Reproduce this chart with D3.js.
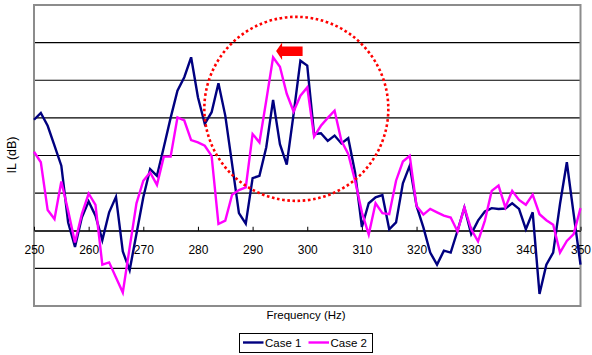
<!DOCTYPE html>
<html>
<head>
<meta charset="utf-8">
<script src="https://cdn.jsdelivr.net/npm/d3@7"></script>
<style>
  body { margin: 0; background: #fff; }
  text { font-family: Arial, "Liberation Sans", sans-serif; }
</style>
</head>
<body>
<div id="chart"></div>
<script>
// frequency steps: 250..350 Hz every 1.25 Hz
var freqStart = 250, freqStep = 1.25
var xTicks = [250, 260, 270, 280, 290, 300, 310, 320, 330, 340, 350]
var seriesNames = ["Case 1", "Case 2"]

var case1 = [2.95, 3.13, 2.79, 2.26, 1.73, 0.22, -0.43, 0.35, 0.78, 0.4,
  -0.25, 0.49, 0.9, -0.55, -1.05, -0.08, 0.89, 1.64, 1.46, 2.22,
  3.0, 3.72, 4.08, 4.61, 3.55, 2.84, 3.15, 3.92, 3.06, 1.77,
  0.47, 0.19, 1.4, 1.46, 2.22, 3.48, 2.3, 1.76, 3.1, 4.52,
  4.39, 2.57, 2.59, 2.39, 2.53, 2.32, 2.46, 1.55, 0.1, 0.73,
  0.89, 0.95, 0.04, 0.22, 1.26, 1.73, 0.66, 0.09, -0.58, -0.9,
  -0.53, -0.58, 0.0, 0.62, -0.09, 0.27, 0.51, 0.6, 0.58, 0.59,
  0.73, 0.58, 0.04, 0.49, -1.68, -0.9, -0.58, 0.71, 1.82, 0.44,
  -0.9]

var case2 = [2.1, 1.82, 0.55, 0.31, 1.31, 0.53, -0.31, 0.44, 0.99, 0.69,
  -0.9, -0.84, -1.24, -1.64, -0.45, 0.73, 1.33, 1.55, 1.22, 1.97,
  1.97, 3.01, 2.93, 2.41, 2.35, 2.26, 1.99, 0.18, 0.27, 0.96,
  1.08, 1.15, 2.57, 2.35, 3.46, 4.61, 4.36, 3.64, 3.17, 3.59,
  3.81, 2.5, 2.79, 3.0, 3.19, 2.39, 2.04, 1.33, 0.49, -0.1,
  0.73, 0.47, 0.44, 1.33, 1.84, 1.99, 0.66, 0.43, 0.58, 0.49,
  0.4, 0.35, -0.02, 0.62, 0.04, -0.28, 0.27, 1.06, 1.2, 0.62,
  1.06, 0.82, 0.69, 0.96, 0.44, 0.28, 0.16, -0.58, -0.27, -0.09,
  0.6]

var width = 592, height = 355
var plot = { left: 34, right: 580.5, top: 5, bottom: 306 }

var svg = d3.select("#chart").append("svg")
  .attr("width", width)
  .attr("height", height)

var x = d3.scaleLinear().domain([250, 350]).range([plot.left, plot.right])
var y = d3.scaleLinear().domain([-2, 6]).range([plot.bottom, plot.top])

// gridlines
svg.append("g").selectAll("line")
  .data(d3.range(-1, 6))
  .join("line")
  .attr("x1", plot.left).attr("x2", plot.right)
  .attr("y1", d => y(d)).attr("y2", d => y(d))
  .attr("stroke", "#000")
  .attr("stroke-width", 1.2)

// plot frame
svg.append("rect")
  .attr("x", plot.left).attr("y", plot.top)
  .attr("width", plot.right - plot.left)
  .attr("height", plot.bottom - plot.top)
  .attr("fill", "none")
  .attr("stroke", "#8c8c8c")
  .attr("stroke-width", 2)

// x axis sits at 0
var xAxis = svg.append("g")
  .attr("transform", `translate(0, ${y(0)})`)
  .call(d3.axisBottom(x).tickValues(xTicks).tickFormat(d3.format("d"))
    .tickSizeInner(-4).tickSizeOuter(0).tickPadding(14.5))
xAxis.select(".domain").attr("stroke", "#000").attr("stroke-width", 1.2)
xAxis.selectAll(".tick line").attr("stroke", "#000")
xAxis.selectAll("text")
  .attr("font-size", "12px")
  .attr("fill", "#000")
  .attr("font-family", "Arial, 'Liberation Sans', sans-serif")

// lines
var line = d3.line()
  .x((d, i) => x(freqStart + i * freqStep))
  .y(d => y(d))

var colors = ["#000080", "#ff00ff"]
svg.append("g").selectAll("path")
  .data([case1, case2])
  .join("path")
  .attr("d", line)
  .attr("fill", "none")
  .attr("stroke", (d, i) => colors[i])
  .attr("stroke-width", 2.4)
  .attr("stroke-linejoin", "miter")

// annotation: dotted circle and arrow
svg.append("ellipse")
  .attr("cx", x(298)).attr("cy", y(3.24))
  .attr("rx", 92).attr("ry", 92)
  .attr("fill", "none")
  .attr("stroke", "#ff0000")
  .attr("stroke-width", 2.6)
  .attr("stroke-dasharray", "2.6 2.6")

var tipX = x(294.3), tipY = y(4.78)
svg.append("path")
  .attr("d", `M${tipX},${tipY} L${tipX + 6},${tipY - 8.5} L${tipX + 6},${tipY - 4.5}
    L${tipX + 26.5},${tipY - 4.5} L${tipX + 26.5},${tipY + 5} L${tipX + 6},${tipY + 5}
    L${tipX + 6},${tipY + 9} Z`)
  .attr("fill", "#ff0000")

// axis titles
svg.append("text")
  .attr("transform", "translate(16, 155) rotate(-90)")
  .attr("text-anchor", "middle")
  .attr("font-size", "12.5px")
  .text("IL (dB)")

svg.append("text")
  .attr("x", 306).attr("y", 319)
  .attr("text-anchor", "middle")
  .attr("font-size", "11.5px")
  .text("Frequency (Hz)")

// legend
var legend = svg.append("g")
legend.append("rect")
  .attr("x", 239.5).attr("y", 333.5)
  .attr("width", 133).attr("height", 19)
  .attr("fill", "#fff")
  .attr("stroke", "#000")
  .attr("stroke-width", 1)

var items = legend.selectAll("g")
  .data(seriesNames)
  .join("g")
  .attr("transform", (d, i) => `translate(${243 + i * 65.5}, 342.5)`)
items.append("line")
  .attr("x1", 0).attr("x2", 20.5)
  .attr("stroke", (d, i) => colors[i])
  .attr("stroke-width", 2.4)
items.append("text")
  .attr("x", 22).attr("y", 4)
  .attr("font-size", "11.5px")
  .text(d => d)
</script>
</body>
</html>
